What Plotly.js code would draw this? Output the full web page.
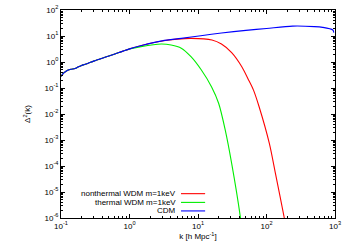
<!DOCTYPE html>
<html>
<head>
<meta charset="utf-8">
<script src="https://cdn.plot.ly/plotly-3.0.1.min.js"></script>
<style>
  html, body { margin: 0; padding: 0; background: #fff; }
  #chart { width: 350px; height: 245px; }
</style>
</head>
<body>
<div id="chart"></div>
<script>
// values (k in h/Mpc, dimensionless power)
const kCdm = [0.1, 0.11, 0.125, 0.14, 0.16, 0.18, 0.2, 0.22, 0.25, 0.3, 0.4, 0.5, 0.7, 1, 1.5, 3, 5.7, 11, 22, 50, 100, 240, 500, 660, 930, 960];
const deltaCdm = [0.28, 0.38, 0.48, 0.53, 0.56, 0.66, 0.74, 0.8, 0.9, 1.08, 1.4, 1.7, 2.3, 3.2, 4.3, 6.5, 8.1, 10.3, 13, 16.5, 19.5, 24, 23, 21.5, 17, 13.5];

const kThermal = [0.1, 0.11, 0.125, 0.14, 0.16, 0.18, 0.2, 0.22, 0.25, 0.3, 0.4, 0.5, 0.7, 1, 1.47, 2.9, 4.05, 5.7, 7.9, 11.2, 15.8, 20, 25, 31, 41.5, 44];
const deltaThermal = [0.28, 0.38, 0.48, 0.53, 0.56, 0.66, 0.74, 0.8, 0.9, 1.08, 1.4, 1.7, 2.3, 3.15, 3.9, 4.9, 4.5, 3.4, 1.6, 0.49, 0.11, 0.026, 0.0024, 1.26e-4, 1.1e-6, 3e-7];

const kNonthermal = [0.1, 0.11, 0.125, 0.14, 0.16, 0.18, 0.2, 0.22, 0.25, 0.3, 0.4, 0.5, 0.7, 1, 1.5, 3, 5, 8, 16, 22, 31, 43.6, 55, 64.6, 78, 110, 135, 182, 190];
const deltaNonthermal = [0.28, 0.38, 0.48, 0.53, 0.56, 0.66, 0.74, 0.8, 0.9, 1.08, 1.4, 1.7, 2.3, 3.2, 4.3, 6.4, 7.6, 8.1, 7, 4.9, 2.3, 0.66, 0.2, 0.083, 0.019, 7.4e-4, 5.2e-5, 1e-6, 5e-7];

const seriesNames = ['nonthermal WDM m=1keV', 'thermal WDM m=1keV', 'CDM'];
const seriesColors = ['#ff0000', '#00ee00', '#0000ff'];

// decade exponents used for tick labels
const xExponents = [-1, 0, 1, 2, 3];
const yExponents = [-6, -5, -4, -3, -2, -1, 0, 1, 2];

const font = { family: 'Liberation Sans, Arial, sans-serif', size: 8, color: '#000' };

const line = (x, y, i) => ({
  x, y, type: 'scatter', mode: 'lines', name: seriesNames[i],
  line: { color: seriesColors[i], width: 1.1, shape: 'spline', smoothing: 0.8 },
  showlegend: false, hoverinfo: 'skip'
});

const decadeTicks = exps => ({
  tickmode: 'array',
  tickvals: exps.map(e => Math.pow(10, e)),
  ticktext: exps.map(e => '10<sup>' + e + '</sup>')
});

const axis = {
  type: 'log',
  showline: true, linecolor: '#000', linewidth: 1, mirror: 'allticks',
  ticks: 'inside', ticklen: 4, tickcolor: '#000', tickwidth: 1,
  minor: { ticks: 'inside', ticklen: 2, tickcolor: '#000', dtick: 'D1' },
  showgrid: false, zeroline: false, tickfont: font
};

// legend drawn gnuplot style: text right-aligned, key line to its right
const legendRows = [0.117, 0.075, 0.034];
const annotations = seriesNames.map((name, i) => ({
  xref: 'paper', yref: 'paper', x: 0.426, y: legendRows[i],
  xanchor: 'right', yanchor: 'middle', text: name, showarrow: false, font
}));
const shapes = seriesNames.map((name, i) => ({
  type: 'line', xref: 'paper', yref: 'paper',
  x0: 0.438, x1: 0.526, y0: legendRows[i], y1: legendRows[i],
  line: { color: seriesColors[i], width: 1.1 }
}));

Plotly.newPlot('chart', [
  line(kNonthermal, deltaNonthermal, 0),
  line(kThermal, deltaThermal, 1),
  line(kCdm, deltaCdm, 2)
], {
  width: 350, height: 245,
  paper_bgcolor: '#fff', plot_bgcolor: '#fff',
  font,
  margin: { l: 61, r: 15, t: 10, b: 27 },
  xaxis: { ...axis, ...decadeTicks(xExponents), range: [-1, 3], title: { text: 'k [h Mpc<sup>-1</sup>]', font, standoff: 0 } },
  yaxis: { ...axis, ...decadeTicks(yExponents), range: [-6, 2], title: { text: 'Δ<sup>2</sup>(k)', font, standoff: 12 } },
  annotations, shapes
}, { staticPlot: true });
</script>
</body>
</html>
